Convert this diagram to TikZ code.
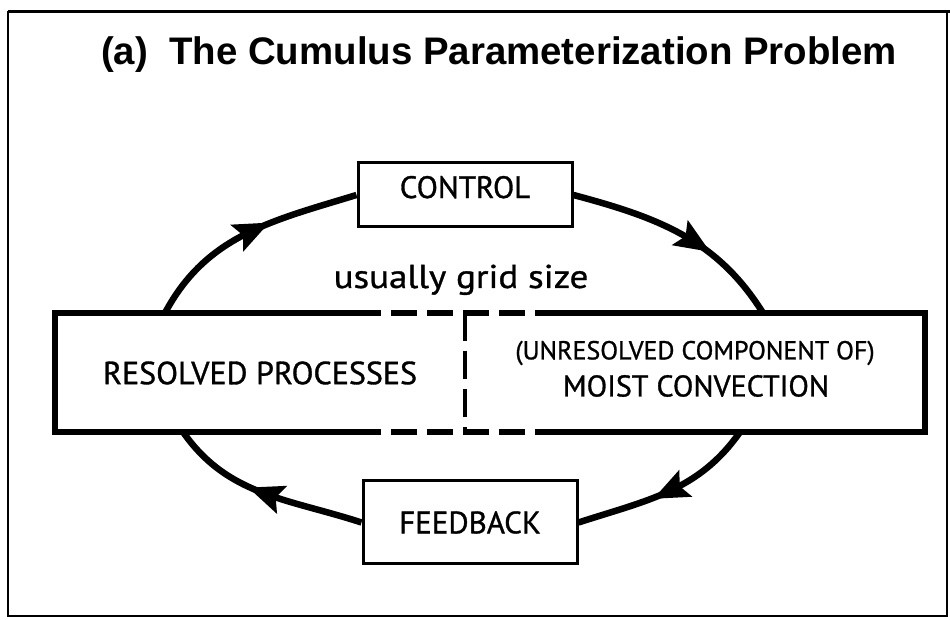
\documentclass[tikz,border=0pt]{standalone}
\usepackage{fontspec}
\setmainfont[FakeBold=1]{PT Sans}
\newfontfamily\titlefont{Liberation Sans}
\newfontfamily\gridfont[FakeStretch=1.12,FakeBold=1]{PT Sans}
\usetikzlibrary{decorations.markings}

\tikzset{
  loopline/.style={line width=6.5pt, postaction={decorate},
    decoration={markings, mark=at position #1 with
      {\fill (20pt,0pt) -- (-16pt,15pt) -- (-9pt,0pt) -- (-16pt,-15pt) -- cycle;}}},
  loopline/.default=0.5,
  smallbox/.style={draw, line width=3pt, minimum width=214pt, inner sep=0pt,
    font=\fontsize{31}{36}\selectfont},
  boxline/.style={line width=5.5pt},
  gridline/.style={line width=5.5pt, dash pattern=on 26pt off 10pt},
}

\begin{document}
\begin{tikzpicture}[x=1pt,y=1pt]
    \useasboundingbox (0,0) rectangle (950,620);
    %frame
    \draw[line width=1.5pt] (8,4) rectangle (947,608);
    \draw[line width=3pt] (8,608) -- (950,608);
    %title
    \node[font=\titlefont\bfseries\fontsize{38.4}{44}\selectfont] (title) at (499,565)
        {(a)\ \ The Cumulus Parameterization Problem};

    %control and feedback
    \node[smallbox, minimum height=64pt, text depth=16pt] (control) at (465,425) {CONTROL};
    \node[smallbox, minimum height=83pt] (feedback) at (470,97.5) {FEEDBACK};

    %main box, dashed where the grid size cuts it
    \coordinate (cuttop) at (355,307);
    \coordinate (cutbot) at (355,188);
    \coordinate (endtop) at (550,307);
    \coordinate (endbot) at (550,188);
    \draw[boxline] (cuttop) -- (55,307) -- (55,188) -- (cutbot);
    \draw[boxline] (endtop) -- (925,307) -- (925,188) -- (endbot);
    \draw[gridline] (cuttop) -- (endtop);
    \draw[gridline] (cutbot) -- (endbot);
    \draw[line width=4.5pt, dash pattern=on 28pt off 10pt] (465,307) -- (465,188);

    \node[font=\fontsize{32}{36}\selectfont] (resolved) at (260,247) {RESOLVED PROCESSES};
    \node[font=\fontsize{26}{30}\selectfont] (unresolved) at (695,267) {(UNRESOLVED COMPONENT OF)};
    \node[font=\fontsize{30}{36}\selectfont] (moist) at (696,234) {MOIST CONVECTION};
    \node[font=\gridfont\fontsize{33}{38}\selectfont, anchor=base] (grid) at (461,332) {usually grid size};

    %loop
    \coordinate (tl) at (165,307);
    \coordinate (tr) at (763,307);
    \coordinate (br) at (740,188);
    \coordinate (bl) at (183,188);
    \draw[loopline=0.52] (tl) to[out=62,in=197] (control.west);
    \draw[loopline=0.56] (control.east) to[out=-15,in=122] (tr);
    \draw[loopline=0.48] (br) to[out=-125,in=18] (feedback.east);
    \draw[loopline=0.48] (feedback.west) to[out=162,in=-55] (bl);
\end{tikzpicture}
\end{document}
